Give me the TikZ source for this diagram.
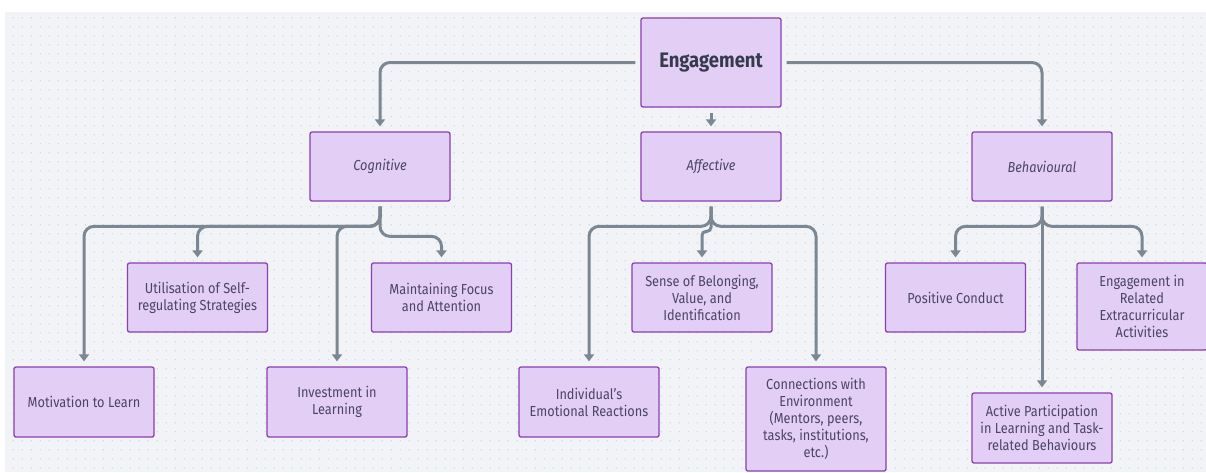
\documentclass[tikz,border=0pt]{standalone}
\usepackage{fontspec}
\setmainfont{Fira Sans}[FakeStretch=0.88]
\usetikzlibrary{arrows.meta,calc,patterns}
\definecolor{bg}{HTML}{F1F3F6}
\definecolor{dotc}{HTML}{C9CFD7}
\definecolor{boxfill}{HTML}{E3CEF5}
\definecolor{boxdraw}{HTML}{8B3FB0}
\definecolor{txt}{HTML}{4B4565}
\definecolor{toptxt}{HTML}{363B4C}
\definecolor{edgec}{HTML}{7B8894}
\pgfdeclarepatternformonly{dotgrid}{\pgfpointorigin}{\pgfpoint{8.7pt}{8.7pt}}{\pgfpoint{8.7pt}{8.7pt}}{%
  \pgfpathcircle{\pgfpoint{4.35pt}{4.35pt}}{0.7pt}\pgfusepath{fill}}
\tikzset{
  box/.style={draw=boxdraw, fill=boxfill, line width=1.3pt, rounded corners=2pt,
    minimum width=140pt, minimum height=69pt, align=center, inner sep=0pt,
    font=\fontsize{14.5}{17}\selectfont, text=txt},
  catbox/.style={box, font=\fontsize{14.5}{17}\selectfont\itshape},
  topbox/.style={box, minimum height=89pt, font=\fontsize{21}{25}\selectfont\bfseries, text=toptxt},
  edge/.style={draw=edgec, line width=3pt, rounded corners=10pt,
    -{Triangle[width=10pt,length=7pt]}, shorten >=5pt},
}
\begin{document}
\begin{tikzpicture}[x=1pt,y=-1pt]
\useasboundingbox (0,0) rectangle (1206,472);
\fill[white] (0,0) rectangle (1206,472);
\fill[bg] (5,12) rectangle (1206,472);
\fill[pattern=dotgrid, pattern color=dotc] (5,12) rectangle (1206,472);

% nodes
\node[topbox] (eng) at (711,62.5) {Engagement};
\node[catbox] (cog) at (380,166.5) {Cognitive};
\node[catbox] (aff) at (711,166.5) {Affective};
\node[catbox] (beh) at (1042,166.5) {Behavioural};

\node[box] (util) at (197.5,297.5) {Utilisation of Self-\\regulating Strategies};
\node[box] (maint) at (441.5,297.5) {Maintaining Focus\\and Attention};
\node[box, minimum height=70pt] (mot) at (84,402) {Motivation to Learn};
\node[box, minimum height=70pt] (inv) at (337,402) {Investment in\\Learning};

\node[box] (sense) at (702,297.5) {Sense of Belonging,\\Value, and\\Identification};
\node[box, minimum height=70pt] (indiv) at (589,402) {Individual's\\Emotional Reactions};
\node[box, minimum height=104pt] (conn) at (816,419) {Connections with\\Environment\\(Mentors, peers,\\tasks, institutions,\\etc.)};

\node[box] (pos) at (955.5,297.5) {Positive Conduct};
\node[box, minimum width=130pt, minimum height=87pt] (extra) at (1142,306.5) {Engagement in\\Related\\Extracurricular\\Activities};
\node[box, minimum height=70pt] (active) at (1042,428) {Active Participation\\in Learning and Task-\\related Behaviours};

% edges
\draw[edge] ([xshift=-5pt]eng.west) -| (cog.north);
\draw[edge] ([xshift=5pt]eng.east) -| (beh.north);
\draw[edge] ([yshift=-5pt]eng.south) -- (aff.north);

\draw[edge] ([yshift=-5pt]cog.south) |- ($(mot.north)+(0,-140)$) -- (mot.north);
\draw[edge] ([yshift=-5pt]cog.south) |- ($(util.north)+(0,-36)$) -- (util.north);
\draw[edge] ([yshift=-5pt]cog.south) |- ($(inv.north)+(0,-140)$) -- (inv.north);
\draw[edge] ([yshift=-5pt]cog.south) |- ($(maint.north)+(0,-26)$) -- (maint.north);

\draw[edge] ([yshift=-5pt]aff.south) |- ($(indiv.north)+(0,-140)$) -- (indiv.north);
\draw[edge, rounded corners=4pt] ([yshift=-5pt]aff.south) |- ($(sense.north)+(0,-31)$) -- (sense.north);
\draw[edge] ([yshift=-5pt]aff.south) |- ($(conn.north)+(0,-140)$) -- (conn.north);

\draw[edge] ([yshift=-5pt]beh.south) |- ($(pos.north)+(0,-36)$) -- (pos.north);
\draw[edge] ([yshift=-5pt]beh.south) -- (active.north);
\draw[edge] ([yshift=-5pt]beh.south) |- ($(extra.north)+(0,-36)$) -- (extra.north);
\end{tikzpicture}
\end{document}
